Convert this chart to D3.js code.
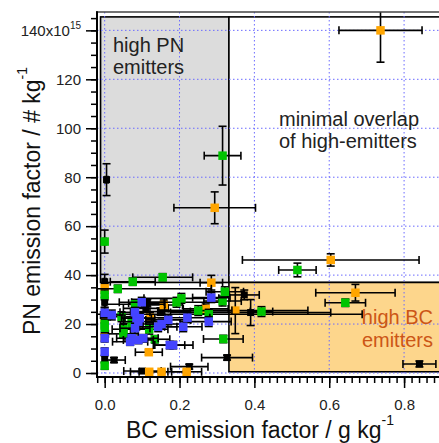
<!DOCTYPE html>
<html>
<head>
<meta charset="utf-8">
<script src="https://cdn.jsdelivr.net/npm/d3@7"></script>
<style>
  body { margin: 0; background: #fff; }
  svg { display: block; font-family: "Liberation Sans", Arial, sans-serif; }
</style>
</head>
<body>
<div id="chart"></div>
<script>
// each point: [BC factor, PN factor (x1e15), BC error, PN error]
const blackPts = [
  [0.005, 79, 0.004, 6.5], [0.0, 37.3, 0.004, 3], [0.0, 28.9, 0.004, 2],
  [0.0, 5.6, 0.004, 1.5], [0.025, 5.3, 0.03, 1], [0.114, 28.5, 0.05, 1.5],
  [0.11, 26.4, 0.06, 1.5], [0.149, 25.1, 0.08, 1.5], [0.101, 0.8, 0.05, 0.8],
  [0.226, 2.6, 0.05, 1], [0.327, 6.3, 0.068, 1], [0.373, 31.9, 0.04, 2],
  [0.39, 24.7, 0.214, 5.3], [0.841, 3.7, 0.044, 1.2]
];
const orangePts = [
  [0.737, 140, 0.111, 13], [0.294, 67.5, 0.109, 6.5], [0.604, 46.2, 0.236, 2.5],
  [0.67, 32.8, 0.106, 3.4], [0.349, 25.5, 0.194, 9.4], [0.285, 36.9, 0.03, 3],
  [0.0, 34.6, 0.004, 2], [0.0, 22.4, 0.004, 2], [0.0, 14.7, 0.004, 1.5],
  [0.158, 27.8, 0.05, 2], [0.27, 26.2, 0.06, 2], [0.121, 22.6, 0.04, 2],
  [0.118, 8.5, 0.036, 1], [0.119, 0.5, 0.05, 0.5], [0.152, 0.5, 0.06, 0.5],
  [0.219, 0.5, 0.04, 0.5]
];
const greenPts = [
  [0.315, 88.8, 0.049, 12], [0.515, 42.1, 0.05, 2.8], [0.643, 28.7, 0.054, 1.5],
  [0.0, 53.7, 0.004, 4.7], [0.155, 39.1, 0.08, 1.5], [0.075, 37.3, 0.06, 1.5],
  [0.035, 34.4, 0.25, 1.5], [0.0, 31.9, 0.004, 2], [0.321, 33.2, 0.05, 2],
  [0.315, 29.4, 0.05, 2], [0.205, 30.5, 0.1, 2], [0.192, 28.9, 0.12, 2],
  [0.081, 28.1, 0.08, 2], [0.25, 25.5, 0.09, 2], [0.278, 24.0, 0.41, 2],
  [0.0, 20, 0.004, 2], [0.0, 18.5, 0.004, 2], [0.045, 23, 0.03, 2],
  [0.05, 17.9, 0.03, 2], [0.05, 16.0, 0.04, 1.5], [0.119, 17.9, 0.05, 2],
  [0.134, 13.8, 0.04, 1.5], [0.317, 13.9, 0.053, 1.5], [0.0, 3, 0.004, 1.5],
  [0.419, 25.1, 0.03, 2], [0.072, 20.3, 0.03, 2]
];
const bluePts = [
  [0.285, 30.8, 0.05, 2], [0.278, 21, 0.06, 2], [0.221, 22.6, 0.06, 2],
  [0.21, 18.9, 0.05, 2], [0.17, 21.7, 0.06, 2], [0.152, 20, 0.05, 2],
  [0.143, 18.9, 0.05, 2], [0.183, 11.4, 0.053, 1.5], [0.174, 11.4, 0.04, 1.5],
  [0.099, 28.9, 0.06, 2], [0.0, 24.6, 0.004, 2], [0.0, 14.2, 0.004, 1.5],
  [0.0, 8.7, 0.004, 1.5], [0.019, 23.7, 0.03, 2], [0.081, 24.8, 0.04, 2],
  [0.085, 22.4, 0.04, 2], [0.094, 22.4, 0.04, 2], [0.081, 18.3, 0.04, 2],
  [0.072, 14.2, 0.04, 1.5], [0.068, 12.8, 0.047, 1.5], [0.09, 13.5, 0.04, 1.5],
  [0.103, 14.2, 0.04, 1.5], [0.09, 21, 0.04, 2]
];
const seriesList = [
  { pts: blackPts, color: "#000000", size: 7 },
  { pts: orangePts, color: "#ffa500", size: 8.5 },
  { pts: greenPts, color: "#00c400", size: 8.5 },
  { pts: bluePts, color: "#4444ff", size: 8.5 }
];
const xTicks = [0, 0.2, 0.4, 0.6, 0.8];
const yTicks = [0, 20, 40, 60, 80, 100, 120, 140];
// regions: [x0, x1, y0, y1]
const pnRegion = [-0.011, 0.332, 37, 145.5];
const overlapRegion = [0.332, 1.2, 37, 145.5];
const bcRegion = [0.332, 1.2, 0.5, 37];

const W = 439, H = 443;
const mLeft = 97, mRight = 439, mTop = 12, mBottom = 377;

const x = d3.scaleLinear().domain([-0.0205, 0.8933]).range([mLeft, mRight]);
const y = d3.scaleLinear().domain([-1.63, 147.5]).range([mBottom, mTop]);

const svg = d3.select("#chart").append("svg").attr("width", W).attr("height", H);

svg.append("clipPath").attr("id", "clip").append("rect")
  .attr("x", mLeft).attr("y", mTop).attr("width", mRight - mLeft).attr("height", mBottom - mTop);

const plot = svg.append("g").attr("clip-path", "url(#clip)");

function region(r, fill) {
  plot.append("rect")
    .attr("x", x(r[0])).attr("y", y(r[3]))
    .attr("width", x(r[1]) - x(r[0])).attr("height", y(r[2]) - y(r[3]))
    .attr("fill", fill).attr("stroke", "#000").attr("stroke-width", 1.6);
}
region(pnRegion, "#dcdcdc");
region(overlapRegion, "#ffffff");
region(bcRegion, "#fdd68c");

// dotted grid
plot.selectAll(".gx").data(xTicks).join("line")
  .attr("x1", d => x(d)).attr("x2", d => x(d)).attr("y1", mTop).attr("y2", mBottom)
  .attr("stroke", "#6a6aff").attr("stroke-width", 1).attr("stroke-dasharray", "1.5,2.5");
plot.selectAll(".gy").data(yTicks).join("line")
  .attr("y1", d => y(d)).attr("y2", d => y(d)).attr("x1", mLeft).attr("x2", mRight)
  .attr("stroke", "#6a6aff").attr("stroke-width", 1).attr("stroke-dasharray", "1.5,2.5");

// error bars + markers per series
const cap = 4;
seriesList.forEach(s => {
  const g = plot.append("g");
  s.pts.forEach(p => {
    const cx = x(p[0]), cy = y(p[1]);
    const xl = x(p[0] - p[2]), xr = x(p[0] + p[2]);
    const yTop = y(p[1] + p[3]), yBot = y(p[1] - p[3]);
    const e = g.append("g").attr("stroke", "#000").attr("stroke-width", 1.6);
    e.append("line").attr("x1", xl).attr("x2", xr).attr("y1", cy).attr("y2", cy);
    e.append("line").attr("x1", xl).attr("x2", xl).attr("y1", cy - cap).attr("y2", cy + cap);
    e.append("line").attr("x1", xr).attr("x2", xr).attr("y1", cy - cap).attr("y2", cy + cap);
    e.append("line").attr("x1", cx).attr("x2", cx).attr("y1", yTop).attr("y2", yBot);
    e.append("line").attr("x1", cx - cap).attr("x2", cx + cap).attr("y1", yTop).attr("y2", yTop);
    e.append("line").attr("x1", cx - cap).attr("x2", cx + cap).attr("y1", yBot).attr("y2", yBot);
  });
  g.selectAll("rect").data(s.pts).join("rect")
    .attr("x", d => x(d[0]) - s.size / 2).attr("y", d => y(d[1]) - s.size / 2)
    .attr("width", s.size).attr("height", s.size).attr("fill", s.color);
});

// region labels
const lbl = svg.append("g").attr("font-size", 20).attr("fill", "#222");
lbl.append("text").attr("x", 113).attr("y", 52).text("high PN");
lbl.append("text").attr("x", 113).attr("y", 73.5).text("emitters");
lbl.append("text").attr("x", 279).attr("y", 126).text("minimal overlap");
lbl.append("text").attr("x", 279).attr("y", 147.5).text("of high-emitters");
lbl.append("text").attr("x", 433).attr("y", 323.5).attr("text-anchor", "end")
  .attr("fill", "#cc5516").text("high BC");
lbl.append("text").attr("x", 433).attr("y", 346.5).attr("text-anchor", "end")
  .attr("fill", "#cc5516").text("emitters");

// frame
svg.append("line").attr("x1", mLeft - 1).attr("x2", mRight).attr("y1", mTop).attr("y2", mTop)
  .attr("stroke", "#444").attr("stroke-width", 1.5);
svg.append("line").attr("x1", mLeft).attr("x2", mLeft).attr("y1", mTop - 0.75).attr("y2", mBottom + 1)
  .attr("stroke", "#000").attr("stroke-width", 2);
svg.append("line").attr("x1", mLeft - 1).attr("x2", mRight).attr("y1", mBottom).attr("y2", mBottom)
  .attr("stroke", "#000").attr("stroke-width", 2);

// axes
const xAxis = d3.axisBottom(x).tickValues(xTicks).tickSize(11).tickPadding(11)
  .tickFormat(d3.format(".1f"));
const xMinor = d3.axisBottom(x).tickValues(d3.range(-0.02, 0.885, 0.02)).tickSize(6).tickFormat("");
const yAxis = d3.axisLeft(y).tickValues(yTicks).tickSize(11).tickPadding(5)
  .tickFormat(d => d === 140 ? "" : d);
const yMinor = d3.axisLeft(y).tickValues(d3.range(0, 146, 5)).tickSize(6).tickFormat("");

function styleAxis(g) {
  g.select(".domain").remove();
  g.selectAll("line").attr("stroke", "#000").attr("stroke-width", 1.5);
  g.selectAll("text").attr("fill", "#222").attr("font-size", 15)
    .attr("font-family", "Liberation Sans, Arial, sans-serif");
}
svg.append("g").attr("transform", `translate(0,${mBottom})`).call(xMinor).call(styleAxis);
svg.append("g").attr("transform", `translate(0,${mBottom})`).call(xAxis).call(styleAxis);
svg.append("g").attr("transform", `translate(${mLeft},0)`).call(yMinor).call(styleAxis);
svg.append("g").attr("transform", `translate(${mLeft},0)`).call(yAxis).call(styleAxis);

// top tick label with exponent
const t140 = svg.append("text").attr("x", 81).attr("y", y(140)).attr("dy", "0.35em")
  .attr("text-anchor", "end").attr("font-size", 15).attr("fill", "#222");
t140.append("tspan").text("140x10");
t140.append("tspan").attr("font-size", 10).attr("dy", "-0.7em").text("15");

// axis titles
const xTitle = svg.append("text").attr("x", 260).attr("y", 438).attr("text-anchor", "middle")
  .attr("font-size", 23).attr("fill", "#111");
xTitle.append("tspan").text("BC emission factor / g kg");
xTitle.append("tspan").attr("font-size", 14).attr("dy", "-0.9em").text("-1");

const yTitle = svg.append("text").attr("transform", "translate(40,201) rotate(-90)")
  .attr("text-anchor", "middle").attr("font-size", 23).attr("fill", "#111");
yTitle.append("tspan").text("PN emission factor / # kg");
yTitle.append("tspan").attr("font-size", 14).attr("dy", "-0.9em").text("-1");
</script>
</body>
</html>
